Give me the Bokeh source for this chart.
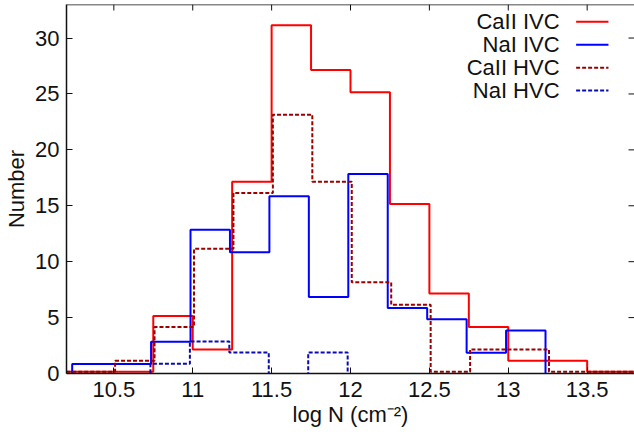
from bokeh.plotting import figure
from bokeh.models import ColumnDataSource, LinearAxis, FixedTicker, Label, Span
from bokeh.transform import dodge
from bokeh.embed import file_html
from bokeh.resources import INLINE

# ---- data (histogram bins of width 0.25 in log N) ----
bin_left = [10.00, 10.25, 10.50, 10.75, 11.00, 11.25, 11.50, 11.75,
            12.00, 12.25, 12.50, 12.75, 13.00, 13.25, 13.50, 13.75]
bin_last_edge = 14.00

caii_ivc = [0, 0, 0, 5, 2, 17, 31, 27, 25, 15, 7, 4, 1, 1, 0, 0]
nai_ivc = [0, 1, 1, 3, 13, 11, 16, 7, 18, 6, 5, 2, 4, 0, 0, 0]
caii_hvc = [0, 0, 1, 4, 11, 16, 23, 17, 8, 6, 0, 2, 2, 0, 0, 0]
nai_hvc = [0, 0, 0, 1, 3, 2, 0, 2, 0, 0, 0, 0, 0, 0, 0, 0]

series_names = ["CaII IVC", "NaI IVC", "CaII HVC", "NaI HVC"]
series_values = [caii_ivc, nai_ivc, caii_hvc, nai_hvc]

x_ticks = [10.5, 11, 11.5, 12, 12.5, 13, 13.5]
y_ticks = [0, 5, 10, 15, 20, 25, 30]

# ---- layout & styles ----
W, H = 634, 439
LEFT, TOP, BOTTOM, RIGHT = 66, 4, 66, 0
X0, X1 = 10.2, 13.8
Y0, Y1 = 0, 33
frame_w = W - LEFT - RIGHT
frame_h = H - TOP - BOTTOM
px_x = (X1 - X0) / frame_w      # data units per pixel, x
px_y = (Y1 - Y0) / frame_h      # data units per pixel, y
TICK = 6

colors = ["#ff0000", "#0000ff", "#9a0000", "#0a0ab4"]
dashes = ["solid", "solid", "4 2", "4 2"]
x_shift = [0.0, -0.014, 0.008, -0.018]
y_shift = [0.15, -0.15, 0.15, -0.13]

FONT = "Liberation Sans"
FS = "22px"
INK = "#111111"

p = figure(width=W, height=H, x_range=(X0, X1), y_range=(Y0, Y1),
           output_backend="svg", toolbar_location=None,
           min_border_left=LEFT, min_border_right=RIGHT, min_border_top=TOP,
           min_border_bottom=BOTTOM, x_axis_location=None, y_axis_location=None)
p.outline_line_color = None
p.xgrid.visible = False
p.ygrid.visible = False
p.background_fill_color = "white"
p.border_fill_color = "white"


def style_axis(ax):
    ax.major_tick_in = TICK
    ax.major_tick_out = 0
    ax.minor_tick_line_color = None
    ax.axis_line_color = INK
    ax.axis_line_width = 1.5
    ax.major_tick_line_color = INK
    ax.major_tick_line_width = 1
    ax.major_label_text_font = FONT
    ax.major_label_text_font_size = FS
    ax.major_label_text_color = INK
    ax.axis_label_text_font = FONT
    ax.axis_label_text_font_size = FS
    ax.axis_label_text_font_style = "normal"
    ax.axis_label_text_color = INK


xb = LinearAxis(ticker=FixedTicker(ticks=x_ticks), axis_label="log N (cm⁻²)")
style_axis(xb)
xb.major_label_standoff = 8
xb.axis_label_standoff = 2
p.add_layout(xb, "below")

yl = LinearAxis(ticker=FixedTicker(ticks=y_ticks), axis_label="Number")
style_axis(yl)
yl.major_label_standoff = 7
yl.axis_label_standoff = 3
p.add_layout(yl, "left")

# top border with inward (mirrored) ticks, right-side inward ticks
p.add_layout(Span(location=Y1, dimension="width", line_color=INK,
                  line_width=1.5))
p.segment(x0=x_ticks, y0=[Y1] * len(x_ticks), x1=x_ticks,
          y1=[Y1 - TICK * px_y] * len(x_ticks), line_color=INK, line_width=1)
p.segment(x0=[X1] * len(y_ticks), y0=y_ticks,
          x1=[X1 - TICK * px_x] * len(y_ticks), y1=y_ticks,
          line_color=INK, line_width=1)

# ---- histogram steps ----
for name, vals, c, d, dx, dy in zip(series_names, series_values, colors,
                                    dashes, x_shift, y_shift):
    src = ColumnDataSource(dict(x=bin_left + [bin_last_edge],
                                y=vals + [vals[-1]]))
    p.step(x=dodge("x", dx), y=dodge("y", dy), source=src, mode="after",
           line_color=c, line_width=2, line_dash=d)

# ---- legend (text right-aligned, sample on the right) ----
leg_text_x = 13.325
leg_line_x0 = 13.43
leg_line_x1 = 13.635
leg_y = [31.45, 29.4, 27.35, 25.3]
for name, c, d, ly in zip(series_names, colors, dashes, leg_y):
    p.add_layout(Label(x=leg_text_x, y=ly, text=name, text_align="right",
                       text_baseline="middle", text_font=FONT,
                       text_font_size=FS, text_color=INK))
    p.segment(x0=[leg_line_x0], y0=[ly], x1=[leg_line_x1], y1=[ly],
              line_color=c, line_width=2, line_dash=d)

open("out.html", "w").write(file_html(p, INLINE))
